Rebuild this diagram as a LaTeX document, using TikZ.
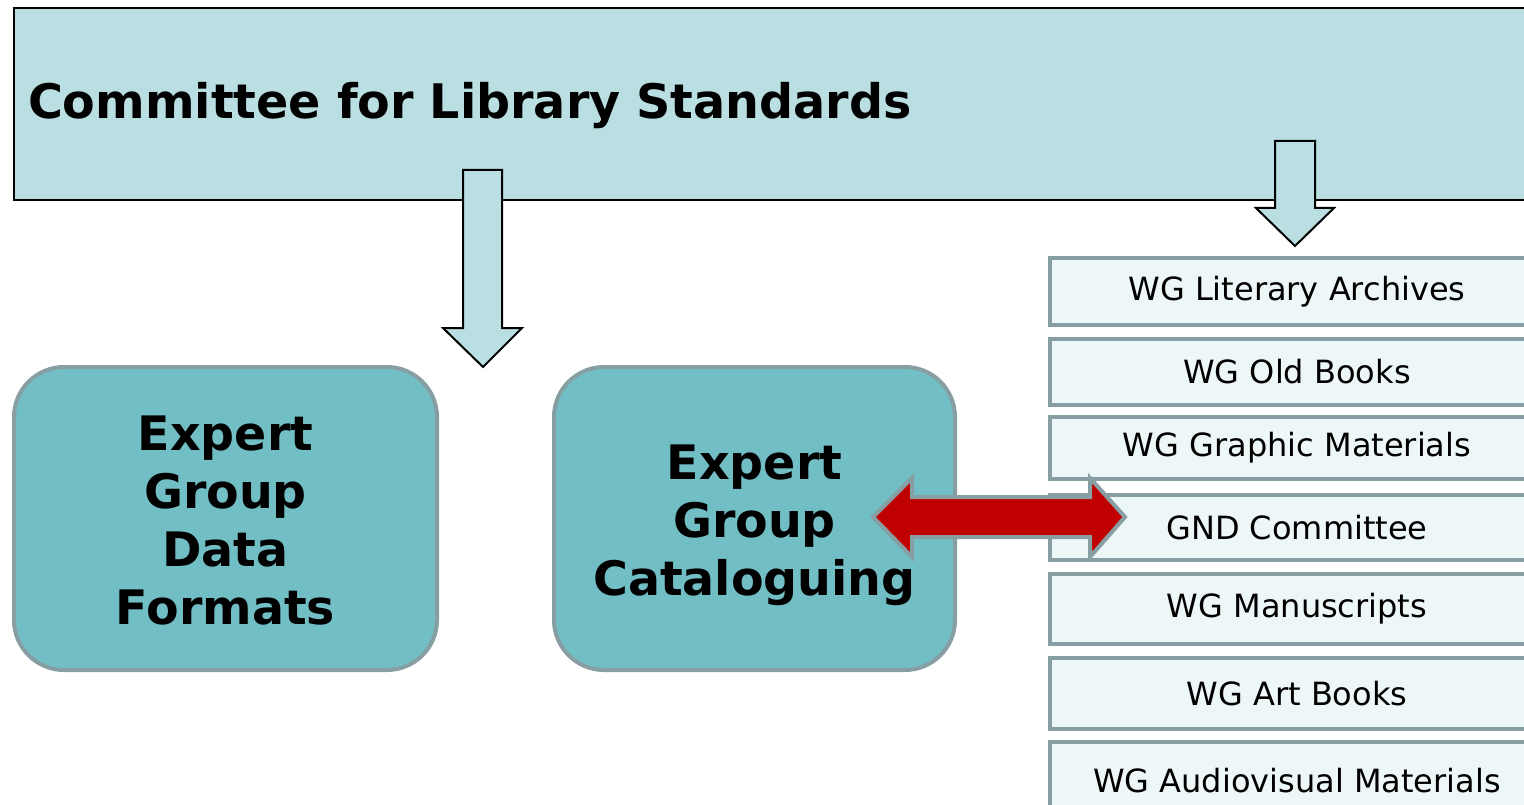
\documentclass[tikz,border=0pt]{standalone}
\usepackage{fontspec}
\setmainfont{DejaVu Sans}
\definecolor{topfill}{HTML}{BADFE3}
\definecolor{egfill}{HTML}{72BEC5}
\definecolor{graybord}{HTML}{879FA3}
\definecolor{wgfill}{HTML}{EEF7F7}
\definecolor{redarrow}{HTML}{C00000}
\tikzset{
  topbox/.style={draw=black, line width=2pt, fill=topfill, inner sep=0pt, anchor=north west},
  blockarrow/.style={draw=black, line width=2pt, fill=topfill, line join=miter},
  egbox/.style={draw=graybord, line width=4pt, fill=egfill, rounded corners=50pt, inner sep=0pt,
    anchor=north west, align=center, font=\bfseries\fontsize{47.5}{58}\selectfont},
  wgbox/.style={draw=graybord, line width=4pt, fill=wgfill, inner sep=0pt, anchor=north west,
    minimum width=494pt, font=\fontsize{32}{38}\selectfont},
  dblarrow/.style={draw=graybord, line width=4pt, fill=redarrow, line join=miter}
}
\newcommand{\topstrut}{\rule{0pt}{55pt}}
\begin{document}
\begin{tikzpicture}[x=1pt,y=-1pt]
\useasboundingbox (0,0) rectangle (1524,805);
\begin{scope}
\clip (0,0) rectangle (1524,805);
% top committee box
\node[topbox, minimum width=1517pt, minimum height=192pt, text width=1489pt, align=left,
  inner xsep=14pt, text depth=8pt, font=\bfseries\fontsize{47.6}{56}\selectfont] (top) at (13,7)
  {Committee for Library Standards};
% block arrows
\draw[blockarrow] (463,170) -- (502,170) -- (502,328) -- (522,328) -- (483,367)
  -- (443,328) -- (463,328) -- cycle;
\draw[blockarrow] (1275,141) -- (1315,141) -- (1315,208) -- (1334,208) -- (1295,246)
  -- (1256,208) -- (1275,208) -- cycle;
% expert groups
\node[egbox, minimum width=423pt, minimum height=303pt] (egdf) at (12,365)
  {\begin{tabular}{@{}c@{}}\topstrut Expert\\Group\\Data\\Formats\end{tabular}};
\node[egbox, minimum width=401pt, minimum height=303pt] (egc) at (552,365)
  {\begin{tabular}{@{}c@{}}\topstrut Expert\\Group\\Cataloguing\end{tabular}};
% working groups
\node[wgbox, minimum height=67pt] (wg1) at (1048,256) {WG Literary Archives};
\node[wgbox, minimum height=66pt] (wg2) at (1048,337) {WG Old Books};
\node[wgbox, minimum height=62pt] (wg3) at (1048,415) {WG Graphic Materials};
\node[wgbox, minimum height=65pt] (wg4) at (1048,493) {GND Committee};
\node[wgbox, minimum height=70pt] (wg5) at (1048,572) {WG Manuscripts};
\node[wgbox, minimum height=71pt] (wg6) at (1048,656) {WG Art Books};
\node[wgbox, minimum height=78pt] (wg7) at (1048,740) {WG Audiovisual Materials};
% red double arrow
\draw[dblarrow] (873,517) -- (912,478) -- (912,497) -- (1090,497) -- (1090,478)
  -- (1125,517) -- (1090,557) -- (1090,537) -- (912,537) -- (912,557) -- cycle;
\end{scope}
\end{tikzpicture}
\end{document}
